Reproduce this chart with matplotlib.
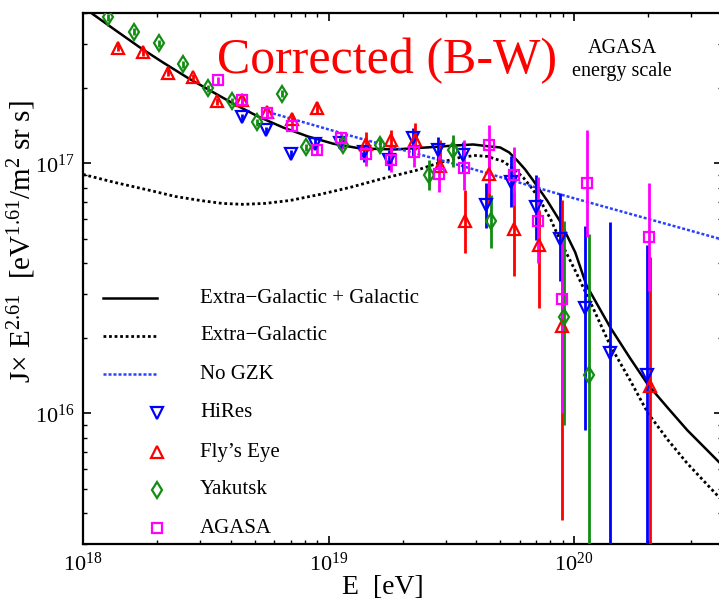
import matplotlib
matplotlib.use("Agg")
import matplotlib.pyplot as plt
from matplotlib.ticker import NullFormatter, LogLocator

plt.rcParams['font.family'] = ['Liberation Serif', 'DejaVu Serif']
plt.rcParams['mathtext.fontset'] = 'custom'
plt.rcParams['mathtext.rm'] = 'Liberation Serif'
plt.rcParams['mathtext.it'] = 'Liberation Serif:italic'

# model curves: energy (eV) and J x E^2.61
E_total = [1.088e18, 1.363e18, 1.707e18, 2.118e18, 2.652e18, 3.29e18, 4.083e18,
           5.16e18, 6.527e18, 8.25e18, 1.043e19, 1.344e19, 1.866e19, 2.518e19,
           3.276e19, 3.879e19, 4.548e19, 4.995e19, 5.436e19, 5.86e19, 6.316e19,
           6.81e19, 7.76e19, 8.77e19, 1.01e20, 1.123e20, 1.402e20, 1.691e20,
           2.0e20, 2.415e20, 2.886e20, 3.896e20, 4.0e20]
J_total = [3.98e17, 3.40e17, 2.91e17, 2.535e17, 2.21e17, 1.959e17, 1.738e17,
           1.542e17, 1.393e17, 1.282e17, 1.20e17, 1.148e17, 1.138e17, 1.159e17,
           1.18e17, 1.191e17, 1.169e17, 1.159e17, 1.107e17, 1.028e17, 0.946e17,
           0.855e17, 0.711e17, 0.586e17, 0.441e17, 0.325e17, 0.221e17, 0.166e17,
           0.130e17, 0.1047e17, 0.0857e17, 0.0637e17, 0.0622e17]

E_extra = [1.0e18, 1.35e18, 1.875e18, 2.37e18, 2.997e18, 3.684e18, 4.485e18,
           5.512e18, 6.97e18, 9.235e18, 1.223e19, 1.667e19, 2.272e19, 2.846e19,
           3.433e19, 3.952e19, 4.422e19, 5.138e19, 5.643e19, 6.20e19, 6.745e19,
           7.27e19, 7.99e19, 8.77e19, 1.019e20, 1.196e20, 1.402e20, 1.691e20,
           2.0e20, 2.415e20, 2.886e20, 3.896e20, 4.0e20]
J_extra = [0.904e17, 0.839e17, 0.78e17, 0.738e17, 0.711e17, 0.692e17, 0.686e17,
           0.692e17, 0.711e17, 0.752e17, 0.802e17, 0.871e17, 0.938e17, 1.009e17,
           1.057e17, 1.076e17, 1.067e17, 1.019e17, 0.955e17, 0.879e17, 0.794e17,
           0.711e17, 0.603e17, 0.492e17, 0.366e17, 0.263e17, 0.187e17, 0.1355e17,
           0.100e17, 0.078e17, 0.0631e17, 0.0461e17, 0.0449e17]

E_nogzk = [5.94e18, 1.344e19, 3.433e19, 8.77e19, 3.896e20, 4.0e20]
J_nogzk = [1.585e17, 1.259e17, 0.982e17, 0.752e17, 0.50e17, 0.497e17]

# data sets: energy, flux, lower and upper end of the error bar
E_hires = [4.443e18, 5.566e18, 7.04e18, 8.81e18, 1.114e19, 1.395e19, 1.764e19,
           2.209e19, 2.793e19, 3.531e19, 4.381e19, 5.54e19, 7.00e19, 8.77e19,
           1.109e20, 1.402e20, 1.984e20]
J_hires = [1.53e17, 1.355e17, 1.087e17, 1.20e17, 1.21e17, 1.107e17, 1.028e17,
           1.259e17, 1.127e17, 1.076e17, 0.679e17, 0.839e17, 0.667e17, 0.50e17,
           0.263e17, 0.175e17, 0.142e17]
lo_hires = [1.48e17, 1.31e17, 1.05e17, 1.15e17, 1.15e17, 1.01e17, 0.938e17,
            1.057e17, 0.964e17, 0.912e17, 0.55e17, 0.667e17, 0.492e17, 0.34e17,
            0.0855e17, 1e15, 1e15]
hi_hires = [1.58e17, 1.40e17, 1.13e17, 1.26e17, 1.27e17, 1.18e17, 1.127e17,
            1.38e17, 1.271e17, 1.213e17, 0.832e17, 1.067e17, 0.895e17, 0.759e17,
            0.56e17, 0.581e17, 0.47e17]

E_fly = [1.389e18, 1.756e18, 2.22e18, 2.805e18, 3.515e18, 4.443e18, 5.618e18,
         7.10e18, 8.98e18, 1.421e19, 1.797e19, 2.25e19, 2.846e19, 3.597e19,
         4.506e19, 5.697e19, 7.20e19, 8.94e19, 2.04e20]
J_fly = [2.91e17, 2.78e17, 2.31e17, 2.21e17, 1.77e17, 1.79e17, 1.61e17,
         1.50e17, 1.66e17, 1.20e17, 1.24e17, 1.24e17, 0.98e17, 0.59e17,
         0.91e17, 0.545e17, 0.47e17, 0.223e17, 0.129e17]
lo_fly = [2.82e17, 2.70e17, 2.24e17, 2.14e17, 1.71e17, 1.70e17, 1.54e17,
          1.43e17, 1.57e17, 1.01e17, 1.06e17, 1.13e17, 0.93e17, 0.437e17,
          0.679e17, 0.353e17, 0.265e17, 0.0373e17, 1e15]
hi_fly = [3.00e17, 2.87e17, 2.38e17, 2.28e17, 1.83e17, 1.88e17, 1.68e17,
          1.57e17, 1.76e17, 1.33e17, 1.355e17, 1.445e17, 1.236e17, 0.78e17,
          1.127e17, 0.766e17, 0.649e17, 0.711e17, 0.421e17]

E_yak = [1.264e18, 1.613e18, 2.04e18, 2.555e18, 3.23e18, 4.045e18, 5.114e18,
         6.466e18, 8.09e18, 1.146e19, 1.621e19, 2.566e19, 3.215e19, 4.591e19,
         9.11e19, 1.151e20]
J_yak = [3.84e17, 3.37e17, 3.02e17, 2.49e17, 2.00e17, 1.77e17, 1.46e17,
         1.905e17, 1.159e17, 1.18e17, 1.18e17, 0.895e17, 1.127e17, 0.59e17,
         0.244e17, 0.142e17]
lo_yak = [3.73e17, 3.27e17, 2.93e17, 2.42e17, 1.94e17, 1.72e17, 1.41e17,
          1.84e17, 1.12e17, 1.14e17, 1.12e17, 0.78e17, 0.964e17, 0.457e17,
          0.0895e17, 1e15]
hi_yak = [3.95e17, 3.47e17, 3.11e17, 2.57e17, 2.06e17, 1.83e17, 1.51e17,
          1.97e17, 1.20e17, 1.22e17, 1.25e17, 1.028e17, 1.294e17, 0.745e17,
          0.586e17, 0.52e17]

E_agasa = [3.548e18, 4.443e18, 5.618e18, 7.10e18, 8.98e18, 1.124e19, 1.421e19,
           1.797e19, 2.23e19, 2.819e19, 3.564e19, 4.506e19, 5.697e19, 7.135e19,
           8.94e19, 1.13e20, 2.021e20]
J_agasa = [2.15e17, 1.79e17, 1.585e17, 1.406e17, 1.127e17, 1.259e17, 1.096e17,
           1.028e17, 1.107e17, 0.904e17, 0.955e17, 1.18e17, 0.895e17, 0.59e17,
           0.288e17, 0.832e17, 0.506e17]
lo_agasa = [2.08e17, 1.72e17, 1.52e17, 1.35e17, 1.08e17, 1.127e17, 0.977e17,
            0.92e17, 0.964e17, 0.766e17, 0.78e17, 0.759e17, 0.679e17, 0.398e17,
            0.1e17, 0.506e17, 0.31e17]
hi_agasa = [2.22e17, 1.86e17, 1.65e17, 1.47e17, 1.18e17, 1.33e17, 1.20e17,
            1.159e17, 1.271e17, 1.076e17, 1.236e17, 1.419e17, 1.159e17, 0.879e17,
            0.492e17, 1.355e17, 0.832e17]

c_hires = '#0000ff'
c_fly = '#ff0000'
c_yak = '#128c12'
c_agasa = '#ff00ff'
c_nogzk = '#2a40ff'

fig = plt.figure(figsize=(7.19, 6.03), dpi=100)
ax = fig.add_axes([83 / 719, 1 - 544 / 603, 639 / 719, 531 / 603])
ax.set_xscale('log')
ax.set_yscale('log')
ax.set_xlim(1e18, 4e20)
ax.set_ylim(3e15, 4e17)

ax.plot(E_total, J_total, color='black', lw=1.8, zorder=3)
ax.plot(E_extra, J_extra, color='black', lw=2.0, ls=(0, (1, 1)), zorder=3)
ax.plot(E_nogzk, J_nogzk, color=c_nogzk, lw=1.8, ls=(0, (1.2, 0.8)), zorder=3)


def draw_set(E, J, lo, hi, color, marker, ms):
    yerr = [[j - l for j, l in zip(J, lo)], [h - j for j, h in zip(J, hi)]]
    ax.errorbar(E, J, yerr=yerr, fmt=marker, color=color, ecolor=color,
                elinewidth=2.0, capsize=0, ms=ms, mfc='none', mec=color,
                mew=1.6, zorder=4)


draw_set(E_hires, J_hires, lo_hires, hi_hires, c_hires, 'v', 8.5)
draw_set(E_fly, J_fly, lo_fly, hi_fly, c_fly, '^', 8.5)
draw_set(E_yak, J_yak, lo_yak, hi_yak, c_yak, 'd', 8)
draw_set(E_agasa, J_agasa, lo_agasa, hi_agasa, c_agasa, 's', 6.5)

# legend drawn by hand in axes coordinates
rows = [0.463, 0.392, 0.320, 0.247, 0.173, 0.102, 0.030]
tr = ax.transAxes
ax.plot([0.031, 0.116], [rows[0]] * 2, color='black', lw=1.8, transform=tr)
ax.plot([0.031, 0.116], [rows[1]] * 2, color='black', lw=2.0, ls=(0, (1, 1)), transform=tr)
ax.plot([0.031, 0.116], [rows[2]] * 2, color=c_nogzk, lw=1.8, ls=(0, (1.2, 0.8)), transform=tr)
for y, c, m, s in zip(rows[3:], [c_hires, c_fly, c_yak, c_agasa],
                      ['v', '^', 'd', 's'], [8.5, 8.5, 8, 6.5]):
    ax.plot([0.116], [y], marker=m, ms=s, mfc='none', mec=c, mew=1.6,
            ls='none', transform=tr)
labels = ['Extra\u2212Galactic + Galactic', 'Extra\u2212Galactic', 'No GZK',
          'HiRes', 'Fly\u2019s Eye', 'Yakutsk', 'AGASA']
for y, t in zip(rows, labels):
    ax.text(0.183, y, t, fontsize=15, va='center', ha='left', transform=tr)

ax.text(0.476, 0.887, 'Corrected (B-W)', color='#ff0000', fontsize=36,
        ha='center', va='baseline', transform=tr)
ax.text(0.8435, 0.925, 'AGASA', fontsize=14.5, ha='center', va='baseline', transform=tr)
ax.text(0.8435, 0.882, 'energy scale', fontsize=14.5, ha='center', va='baseline', transform=tr)

ax.set_xlabel('E  [eV]', fontsize=20)
ax.xaxis.set_label_coords(0.469, -0.058)
ax.set_ylabel('J\u00d7 E$^{2.61}$  [eV$^{1.61}$/m$^{2}$ sr s]', fontsize=21)
ax.yaxis.set_label_coords(-0.071, 0.569)

ax.yaxis.set_minor_locator(LogLocator(base=10, subs=range(2, 10)))
ax.xaxis.set_minor_locator(LogLocator(base=10, subs=range(2, 10)))
ax.xaxis.set_minor_formatter(NullFormatter())
ax.yaxis.set_minor_formatter(NullFormatter())
ax.tick_params(which='both', direction='in', top=True, right=True, labelsize=16)
ax.tick_params(which='major', length=5.5, width=1.2, pad=6)
ax.tick_params(which='minor', length=3, width=1.0)
for s in ax.spines.values():
    s.set_linewidth(1.6)

fig.savefig('out.png', dpi=100)
